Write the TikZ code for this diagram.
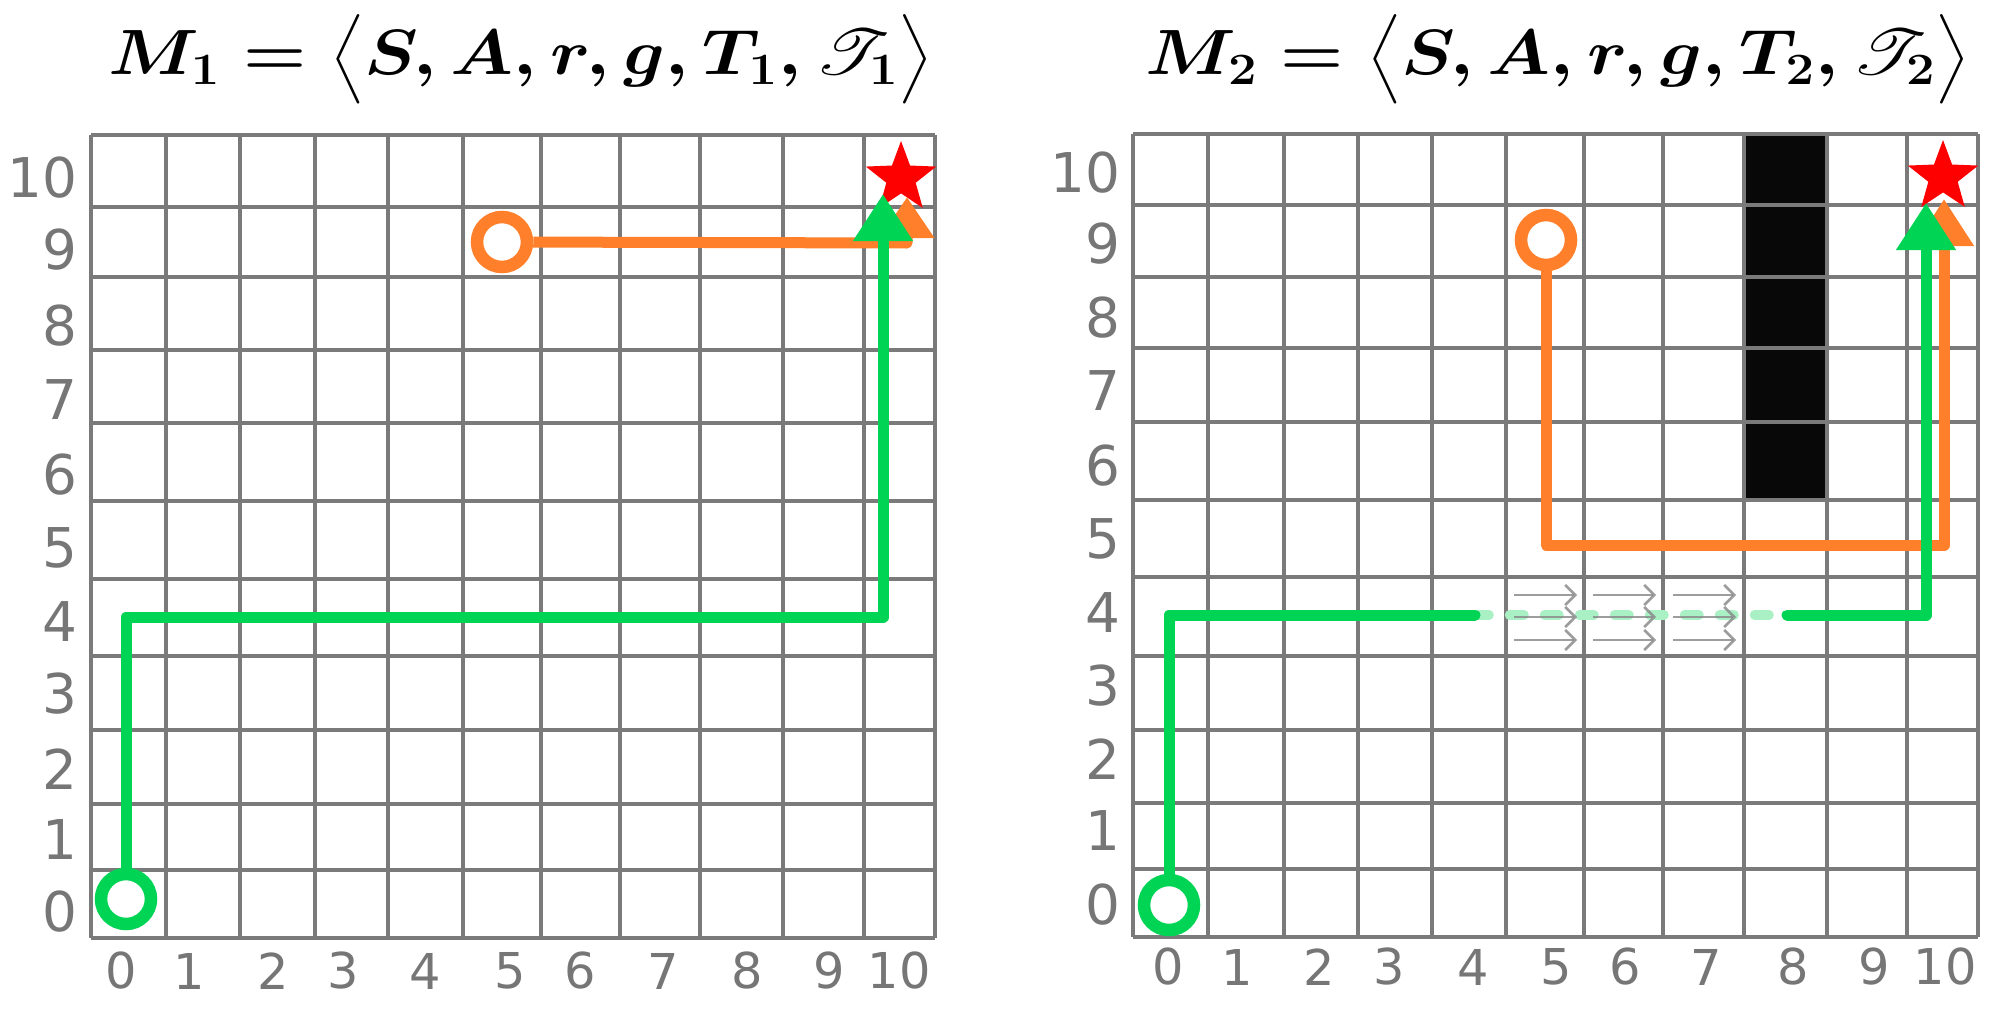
\RequirePackage{fix-cm}
\documentclass[tikz,border=0pt]{standalone}
\usepackage{amsmath,mathrsfs,graphicx}
\DeclareFontFamily{U}{rsfs}{\skewchar\font127 }
\DeclareFontShape{U}{rsfs}{m}{n}{<-6> rsfs5 <6-8> rsfs7 <8-> rsfs10}{}
\usepackage{fontspec}
\newfontfamily\labfont{DejaVu Sans}
\usetikzlibrary{arrows.meta,shapes.geometric}
\definecolor{gridc}{RGB}{122,122,122}
\definecolor{labc}{RGB}{118,118,118}
\definecolor{grn}{RGB}{0,212,85}
\definecolor{org}{RGB}{255,127,42}
\definecolor{lgrn}{RGB}{170,240,197}
\definecolor{arrg}{RGB}{140,140,140}
\definecolor{obst}{RGB}{8,8,8}
\newcommand{\ttlfont}{\fontsize{32}{36}\selectfont}
\newcommand{\mytitle}[1]{\scalebox{1.13}[1]{\boldmath$M_{#1} = \bigl\langle S, A, r, g, T_{#1}, \mathscr{T}_{#1}\bigr\rangle$}}
\begin{document}
\begin{tikzpicture}[x=0.5pt,y=-0.5pt,
  gridl/.style={draw=gridc,line width=1.75pt},
  ylab/.style={anchor=east,inner sep=0pt,text=labc,font=\labfont\fontsize{27.4}{30}\selectfont},
  xlab/.style={anchor=center,inner sep=0pt,text=labc,font=\labfont\fontsize{24.7}{28}\selectfont},
  ring/.style={circle,line width=6.25pt,minimum size=25pt,inner sep=0pt},
  route/.style={line width=5.5pt,line join=round},
  tip/.style={-{Triangle[length=23.5pt,width=28.5pt]}},
  smalltip/.style={-{Triangle[length=20.5pt,width=26pt]}},
  goal/.style={star,star points=5,star point ratio=2.4,fill=red,minimum size=37pt,inner sep=0pt},
  flow/.style={draw=arrg,draw opacity=0.85,line width=1.3pt,-{Straight Barb[length=5pt,width=10pt]}},
  mtitle/.style={anchor=base west,inner sep=0pt,font=\ttlfont}]
\fill[white] (0,0) rectangle (2011,1022);
\useasboundingbox (0,0) rectangle (2011,1022);

% obstacle
\fill[obst] (1744,134) rectangle (1827,500);

% left grid
\foreach \x in {91,166,240,315,388,463,541,620,700,783,864,935}
  \draw[gridl] (\x,135) -- (\x,938);
\foreach \y in {135,207,277,350,423,501,579,656,730,804,870,938}
  \draw[gridl] (91,\y) -- (935,\y);
% right grid
\foreach \x in {1133,1208,1284,1358,1432,1506,1584,1663,1744,1827,1907,1978}
  \draw[gridl] (\x,134) -- (\x,937);
\foreach \y in {134,205,277,348,422,500,577,656,730,803,869,937}
  \draw[gridl] (1133,\y) -- (1978,\y);

% axis labels
\foreach \n/\y in {10/178,9/250,8/326,7/400,6/475,5/548,4/622,3/694,2/769,1/840,0/912}
  \node[ylab] (lyl\n) at (78,\y) {\n};
\foreach \n/\x in {0/121,1/189,2/273,3/343,4/425,5/510,6/580,7/663,8/747,9/829,10/899}
  \node[xlab] (lxl\n) at (\x,971) {\n};
\foreach \n/\y in {10/173,9/244,8/318,7/391,6/466,5/539,4/613,3/686,2/759,1/831,0/905}
  \node[ylab] (lyr\n) at (1121,\y) {\n};
\foreach \n/\x in {0/1168,1/1237,2/1319,3/1389,4/1473,5/1556,6/1625,7/1706,8/1793,9/1874,10/1945}
  \node[xlab] (lxr\n) at (\x,967) {\n};

% goals
\node[goal] (starL) at (901,178) {};
\node[goal] (starR) at (1943,177) {};

% start rings
\node[ring,draw=org] (oL) at (502,242) {};
\node[ring,draw=grn] (gL) at (126,899) {};
\node[ring,draw=org] (oR) at (1546,240) {};
\node[ring,draw=grn] (gR) at (1169,905) {};

% corners
\coordinate (oL1) at (907,243);
\coordinate (oLend) at (907,197);
\coordinate (gL1) at (126,617);
\coordinate (gL2) at (883,617);
\coordinate (gLend) at (883,194);
\coordinate (oR1) at (1546,545);
\coordinate (oR2) at (1944,545);
\coordinate (oRend) at (1944,199);
\coordinate (gR1) at (1169,615);
\coordinate (gR2) at (1475,615);
\coordinate (gR3) at (1474.5,615);
\coordinate (gR4) at (1775,615);
\coordinate (gR5) at (1787,615);
\coordinate (gR6) at (1926,615);
\coordinate (gRend) at (1926,203);

% left panel routes
\draw[route,draw=org,smalltip] (oL) -- (oL1) -- (oLend);
\draw[route,draw=grn,tip] (gL) -- (gL1) -- (gL2) -- (gLend);

% right panel routes
\draw[route,draw=org,tip] (oR) -- (oR1) -- (oR2) -- (oRend);
\draw[lgrn,line width=4.75pt,line cap=round,dash pattern=on 7.25pt off 10.25pt] (gR3) -- (gR4);
\foreach \y in {595,617,640}{
  \draw[flow] (1514,\y) -- (1577,\y);
  \draw[flow] (1593,\y) -- (1656,\y);
  \draw[flow] (1673,\y) -- (1736,\y);
}
\draw[route,draw=grn,line cap=round] (gR) -- (gR1) -- (gR2);
\draw[route,draw=grn,line cap=round,tip] (gR5) -- (gR6) -- (gRend);

% titles
\node[mtitle] (t1) at (108,75) {\mytitle{1}};
\node[mtitle] (t2) at (1145,75) {\mytitle{2}};
\end{tikzpicture}
\end{document}
